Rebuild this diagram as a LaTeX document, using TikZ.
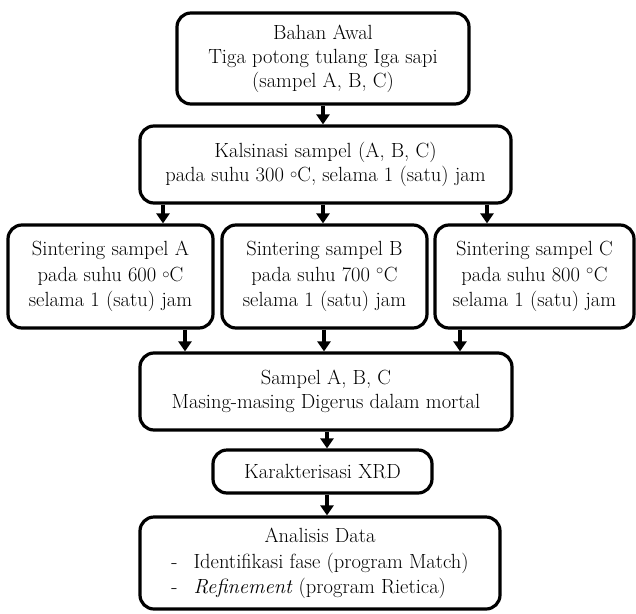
\documentclass[tikz,border=0pt]{standalone}
\usetikzlibrary{arrows.meta}
\newcommand{\smalldeg}{\raisebox{0.35ex}{$\scriptstyle\circ$}}
\begin{document}
\begin{tikzpicture}[x=1pt,y=-1pt,
  box/.style={draw,line width=3.2pt,rounded corners=14pt,align=center,inner sep=0pt,
    font=\fontsize{20.5}{24}\selectfont},
  arr/.style={line width=3.2pt,-{Triangle[length=10pt,width=13pt]}}]
\useasboundingbox (0,0) rectangle (636,613);
\node[box,minimum width=292pt,minimum height=91pt] (b1) at (323,58.5)
  {Bahan Awal\\Tiga potong tulang Iga sapi\\(sampel A, B, C)};
\node[box,minimum width=371pt,minimum height=77pt] (b2) at (325.5,164.5)
  {Kalsinasi sampel (A, B, C)\\pada suhu 300 \smalldeg C, selama 1 (satu) jam};
\node[box,minimum width=205pt,minimum height=103pt] (bA) at (110.5,276.5)
  {Sintering sampel A\\[2pt]pada suhu 600 \smalldeg C\\[1pt]selama 1 (satu) jam};
\node[box,minimum width=205pt,minimum height=103pt] (bB) at (324.5,276.5)
  {Sintering sampel B\\[2pt]pada suhu 700 $^{\circ}$C\\[1pt]selama 1 (satu) jam};
\node[box,minimum width=199pt,minimum height=103pt] (bC) at (534.5,276.5)
  {Sintering sampel C\\[2pt]pada suhu 800 $^{\circ}$C\\[1pt]selama 1 (satu) jam};
\node[box,minimum width=372pt,minimum height=77pt] (bD) at (326,391.5)
  {Sampel A, B, C\\Masing-masing Digerus dalam mortal};
\node[box,minimum width=219pt,minimum height=43pt] (bE) at (322.5,471.5)
  {Karakterisasi XRD};
\node[box,minimum width=360pt,minimum height=92pt] (bF) at (320,563)
  {\renewcommand{\arraystretch}{1.05}\begin{tabular}{@{}l@{}}
   \multicolumn{1}{c}{Analisis Data}\\
   -\hspace{16pt}Identifikasi fase (program Match)\\
   -\hspace{16pt}\textit{Refinement} (program Rietica)
   \end{tabular}};
\coordinate (x1) at (323,0);
\coordinate (xa) at (163,0);
\coordinate (xb) at (323,0);
\coordinate (xc) at (487,0);
\coordinate (ya) at (185,0);
\coordinate (yb) at (324,0);
\coordinate (yc) at (460,0);
\coordinate (x2) at (327,0);
\draw[arr] (b1.south -| x1) -- (b2.north -| x1);
\draw[arr] (b2.south -| xa) -- (bA.north -| xa);
\draw[arr] (b2.south -| xb) -- (bB.north -| xb);
\draw[arr] (b2.south -| xc) -- (bC.north -| xc);
\draw[arr] (bA.south -| ya) -- (bD.north -| ya);
\draw[arr] (bB.south -| yb) -- (bD.north -| yb);
\draw[arr] (bC.south -| yc) -- (bD.north -| yc);
\draw[arr] (bD.south -| x2) -- (bE.north -| x2);
\draw[arr] (bE.south -| x2) -- (bF.north -| x2);
\end{tikzpicture}
\end{document}
